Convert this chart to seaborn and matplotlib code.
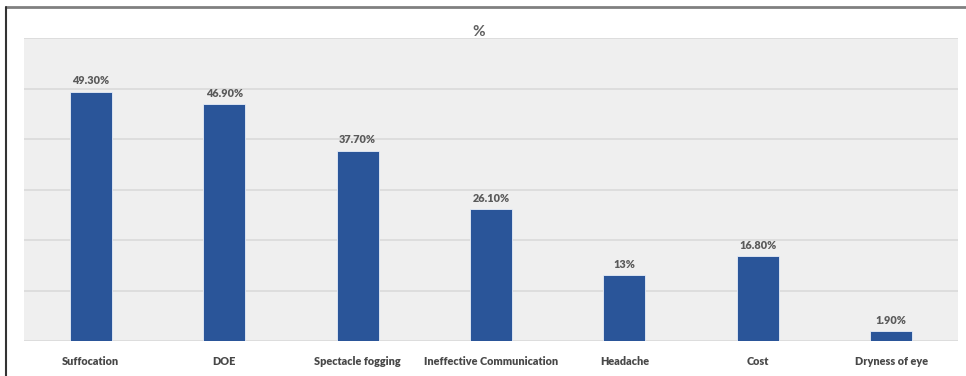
import pandas as pd
import matplotlib.pyplot as plt
import seaborn as sns
from matplotlib.lines import Line2D

#Chart values
categories = ['Suffocation', 'DOE', 'Spectacle fogging', 'Ineffective Communication',
              'Headache', 'Cost', 'Dryness of eye']
percent = [49.3, 46.9, 37.7, 26.1, 13.0, 16.8, 1.9]
value_labels = ['49.30%', '46.90%', '37.70%', '26.10%', '13%', '16.80%', '1.90%']

df = pd.DataFrame({'Issue': categories, 'Percent': percent})

sns.set_style('white')
plt.rcParams['font.family'] = ['Lato', 'DejaVu Sans']

fig = plt.figure(figsize=(9.66, 3.76), dpi=100)
ax = fig.add_axes([24/966, 1-341/376, 934/966, 303/376])
ax.set_facecolor('#efefef')

sns.barplot(data=df, x='Issue', y='Percent', color='#2a5599', width=0.315,
            saturation=1, linewidth=0.6, edgecolor='#e8eef8', ax=ax, zorder=3)

ax.set_ylim(0, 60)
ax.set_yticks(range(0, 61, 10))
ax.yaxis.grid(True, color='#dadada', linewidth=1.2, zorder=0)
ax.set_axisbelow(True)
ax.tick_params(axis='y', left=False, labelleft=False)
ax.tick_params(axis='x', bottom=False, pad=7)
for lbl in ax.get_xticklabels():
    lbl.set_fontweight('heavy')
    lbl.set_fontsize(7.8)
    lbl.set_color('#484848')
ax.set_xlabel('')
ax.set_ylabel('')
for s in ax.spines.values():
    s.set_visible(False)

#Value labels above bars
for i, (v, t) in enumerate(zip(percent, value_labels)):
    ax.annotate(t, (i, v), xytext=(0, 4), textcoords='offset points',
                ha='center', va='bottom', fontsize=7.8, fontweight='heavy', color='#5a5a5a')

fig.text(479/966, 1-32/376, '%', ha='center', va='center', fontsize=11,
         fontweight='bold', color='#606060')

#Outer frame (top and left edges)
fig.add_artist(Line2D([6/966, 1], [1-7/376, 1-7/376], color='#808080', linewidth=2))
fig.add_artist(Line2D([6/966, 6/966], [0, 1-7/376], color='#333333', linewidth=1.5))

plt.savefig('out.png', dpi=100)
